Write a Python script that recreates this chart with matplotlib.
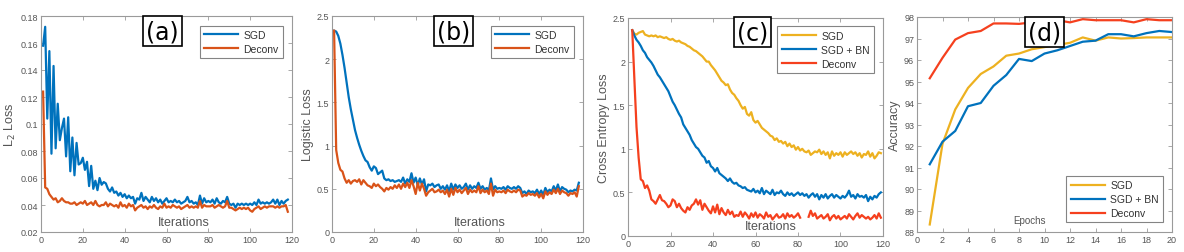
import numpy as np
import matplotlib
matplotlib.use("Agg")
import matplotlib.pyplot as plt

plt.rcParams['font.family'] = ['Liberation Sans', 'DejaVu Sans']

# ---------------- data ----------------
iters_ab = list(range(1, 119))
a_sgd = [0.158,0.172,0.104,0.154,0.078,0.143,0.082,0.115,0.088,0.097,
         0.104,0.076,0.105,0.065,0.090,0.062,0.086,0.070,0.071,0.075,
         0.066,0.072,0.054,0.069,0.052,0.058,0.051,0.060,0.055,0.057,
         0.056,0.052,0.050,0.053,0.049,0.050,0.047,0.049,0.046,0.048,
         0.045,0.047,0.045,0.046,0.041,0.045,0.044,0.049,0.043,0.046,
         0.044,0.042,0.046,0.043,0.045,0.042,0.044,0.041,0.043,0.045,
         0.042,0.043,0.042,0.044,0.042,0.043,0.041,0.042,0.043,0.046,
         0.042,0.043,0.041,0.042,0.040,0.047,0.041,0.045,0.042,0.043,
         0.042,0.044,0.041,0.045,0.042,0.041,0.043,0.042,0.046,0.041,
         0.040,0.041,0.038,0.041,0.040,0.041,0.040,0.041,0.040,0.041,
         0.040,0.042,0.040,0.044,0.041,0.042,0.041,0.042,0.041,0.042,
         0.044,0.041,0.044,0.040,0.043,0.041,0.043,0.044]
a_deconv = [0.124,0.053,0.052,0.048,0.046,0.044,0.045,0.042,0.043,0.045,
            0.043,0.042,0.042,0.041,0.041,0.042,0.040,0.041,0.042,0.041,
            0.043,0.040,0.041,0.042,0.040,0.043,0.040,0.039,0.040,0.040,
            0.042,0.039,0.041,0.040,0.039,0.040,0.038,0.042,0.039,0.040,
            0.038,0.041,0.039,0.040,0.036,0.038,0.039,0.040,0.038,0.039,
            0.037,0.039,0.038,0.040,0.038,0.037,0.039,0.038,0.041,0.038,
            0.039,0.038,0.040,0.039,0.038,0.039,0.037,0.038,0.039,0.040,
            0.038,0.039,0.038,0.039,0.038,0.043,0.038,0.040,0.039,0.039,
            0.039,0.040,0.038,0.039,0.040,0.039,0.038,0.039,0.043,0.038,
            0.038,0.037,0.036,0.037,0.038,0.037,0.038,0.037,0.038,0.036,
            0.035,0.037,0.038,0.039,0.037,0.038,0.039,0.038,0.039,0.039,
            0.039,0.038,0.039,0.038,0.039,0.039,0.040,0.035]

b_sgd = [2.33,2.32,2.27,2.18,2.05,1.90,1.73,1.56,1.42,1.30,
         1.18,1.09,1.01,0.94,0.88,0.83,0.81,0.75,0.71,0.76,
         0.74,0.67,0.69,0.71,0.62,0.60,0.61,0.59,0.60,0.58,
         0.59,0.60,0.58,0.63,0.56,0.61,0.58,0.68,0.57,0.63,
         0.54,0.62,0.55,0.61,0.47,0.55,0.54,0.56,0.52,0.54,
         0.55,0.50,0.53,0.49,0.54,0.47,0.56,0.49,0.55,0.51,
         0.54,0.50,0.52,0.56,0.49,0.54,0.50,0.53,0.51,0.57,
         0.50,0.53,0.49,0.51,0.48,0.62,0.49,0.53,0.50,0.51,
         0.50,0.52,0.49,0.53,0.51,0.50,0.52,0.50,0.53,0.51,
         0.45,0.47,0.44,0.48,0.46,0.47,0.45,0.49,0.44,0.48,
         0.43,0.51,0.46,0.49,0.47,0.53,0.48,0.55,0.47,0.52,
         0.50,0.49,0.46,0.48,0.47,0.49,0.48,0.57]
b_deconv = [2.33,0.95,0.80,0.72,0.70,0.62,0.57,0.60,0.56,0.59,
            0.60,0.58,0.61,0.55,0.60,0.57,0.54,0.53,0.51,0.56,
            0.53,0.55,0.52,0.50,0.47,0.51,0.49,0.52,0.50,0.54,
            0.51,0.55,0.50,0.56,0.52,0.57,0.51,0.60,0.53,0.44,
            0.57,0.48,0.56,0.50,0.42,0.46,0.48,0.50,0.46,0.47,
            0.49,0.46,0.48,0.44,0.49,0.41,0.50,0.43,0.51,0.46,
            0.49,0.45,0.48,0.51,0.44,0.49,0.46,0.48,0.46,0.53,
            0.45,0.49,0.46,0.48,0.44,0.56,0.42,0.49,0.46,0.47,
            0.46,0.48,0.45,0.49,0.47,0.46,0.48,0.46,0.49,0.48,
            0.41,0.43,0.42,0.45,0.43,0.44,0.42,0.45,0.40,0.44,
            0.39,0.47,0.43,0.46,0.44,0.49,0.45,0.50,0.44,0.48,
            0.46,0.45,0.42,0.45,0.44,0.46,0.41,0.53]

iters_c = list(range(2, 120))
c_sgd = [2.36,2.32,2.31,2.33,2.34,2.35,2.31,2.30,2.29,2.30,
         2.29,2.30,2.28,2.29,2.28,2.27,2.28,2.26,2.25,2.26,
         2.24,2.23,2.24,2.22,2.21,2.20,2.18,2.17,2.15,2.13,
         2.12,2.10,2.08,2.06,2.03,2.00,2.00,1.96,1.93,1.90,
         1.86,1.82,1.78,1.76,1.73,1.74,1.68,1.64,1.62,1.58,
         1.55,1.50,1.46,1.48,1.40,1.38,1.42,1.33,1.30,1.32,
         1.28,1.24,1.22,1.20,1.18,1.15,1.14,1.10,1.12,1.08,
         1.09,1.06,1.08,1.03,1.06,1.02,1.04,0.99,1.02,0.98,
         1.00,0.97,0.96,0.98,0.93,0.95,0.97,0.96,0.99,0.94,
         0.97,0.93,0.96,0.89,0.97,0.92,0.95,0.93,0.96,0.91,
         0.96,0.93,0.95,0.97,0.94,0.96,0.92,0.95,0.90,0.94,
         0.93,0.97,0.91,0.95,0.89,0.92,0.96,0.95]
c_sgdbn = [2.36,2.30,2.25,2.22,2.18,2.13,2.10,2.05,2.02,1.99,
           1.95,1.90,1.85,1.82,1.78,1.74,1.70,1.66,1.60,1.54,
           1.50,1.45,1.40,1.36,1.28,1.24,1.20,1.16,1.10,1.06,
           1.02,1.00,0.96,0.92,0.90,0.84,0.86,0.80,0.78,0.74,
           0.78,0.72,0.70,0.68,0.66,0.63,0.66,0.62,0.60,0.61,
           0.58,0.57,0.55,0.56,0.53,0.52,0.51,0.54,0.50,0.52,
           0.49,0.55,0.48,0.52,0.50,0.48,0.53,0.47,0.50,0.49,
           0.52,0.48,0.46,0.50,0.47,0.49,0.46,0.48,0.50,0.47,
           0.49,0.46,0.48,0.44,0.47,0.49,0.45,0.48,0.42,0.47,
           0.44,0.48,0.43,0.46,0.48,0.44,0.47,0.45,0.43,0.46,
           0.44,0.47,0.52,0.45,0.47,0.43,0.48,0.45,0.46,0.44,
           0.47,0.40,0.45,0.42,0.46,0.44,0.48,0.50]
c_deconv = [2.36,1.80,1.25,0.90,0.65,0.63,0.55,0.58,0.52,0.42,
            0.40,0.37,0.42,0.47,0.41,0.40,0.37,0.33,0.35,0.42,
            0.40,0.33,0.37,0.32,0.29,0.27,0.33,0.30,0.35,0.37,
            0.42,0.36,0.41,0.30,0.37,0.33,0.29,0.26,0.34,0.27,
            0.36,0.25,0.32,0.27,0.24,0.30,0.25,0.28,0.22,0.24,
            0.23,0.28,0.22,0.27,0.24,0.20,0.26,0.22,0.27,0.21,
            0.25,0.23,0.20,0.27,0.22,0.24,0.19,0.22,0.25,0.21,
            0.22,0.25,0.20,0.26,0.22,0.24,0.21,0.23,0.26,0.21,
            np.nan,np.nan,np.nan,0.22,0.29,0.23,0.26,0.20,0.22,0.24,
            0.20,0.22,0.25,0.18,0.22,0.24,0.20,0.23,0.19,0.21,
            0.23,0.20,0.25,0.22,0.19,0.23,0.26,0.21,0.24,0.22,
            0.20,0.22,0.19,0.21,0.24,0.20,0.26,0.21]

epochs = list(range(1, 21))
d_sgd = [88.35,92.1,93.7,94.7,95.35,95.7,96.2,96.3,96.5,96.6,
         96.7,96.8,97.05,96.9,97.05,97.0,97.02,97.05,97.05,97.05]
d_sgdbn = [91.15,92.2,92.7,93.85,94.0,94.8,95.3,96.05,95.95,96.3,
           96.45,96.65,96.85,96.9,97.2,97.2,97.1,97.25,97.35,97.3]
d_deconv = [95.15,96.1,96.95,97.25,97.35,97.7,97.7,97.68,97.75,97.8,
            97.85,97.75,97.9,97.85,97.85,97.85,97.75,97.9,97.85,97.85]

BLUE = '#0072BD'
ORANGE = '#D95319'
YELLOW = '#EDB120'
RED = '#F5401E'
GREY = '#555555'

fig = plt.figure(figsize=(11.84, 2.53), dpi=100)

def px_axes(l, t, r, b):
    W, H = 1184, 253
    return fig.add_axes([l / W, 1 - b / H, (r - l) / W, (b - t) / H])

def style(ax):
    for s in ax.spines.values():
        s.set_color('#9a9a9a')
        s.set_linewidth(0.8)
    ax.tick_params(direction='in', length=3, width=0.6, colors='#9a9a9a',
                   labelcolor=GREY, labelsize=6.5, top=True, right=True, pad=2)

def tag(ax, text, x, y):
    ax.text(x, y, text, transform=ax.transAxes, fontsize=17, ha='center', va='center',
            family=['DejaVu Sans'], zorder=10, clip_on=False,
            bbox=dict(boxstyle='square,pad=0.12', fc='white', ec='black', lw=1.2))

def leg(ax, loc, bbox=None):
    lg = ax.legend(loc=loc, bbox_to_anchor=bbox, fontsize=7.5, frameon=True, fancybox=False,
                   handlelength=3.3, handletextpad=0.5, borderpad=0.4, labelspacing=0.38,
                   borderaxespad=0.5)
    lg.get_frame().set_edgecolor('#666666')
    lg.get_frame().set_linewidth(0.8)
    for t in lg.get_texts():
        t.set_color('#333333')
    return lg

# (a)
ax = px_axes(41, 17, 292, 233)
ax.plot(iters_ab, a_sgd, color=BLUE, lw=1.6, label='SGD')
ax.plot(iters_ab, a_deconv, color=ORANGE, lw=1.6, label='Deconv')
ax.set_xlim(0, 120); ax.set_ylim(0.02, 0.18)
ax.set_xticks(range(0, 121, 20))
ax.set_yticks([0.02,0.04,0.06,0.08,0.1,0.12,0.14,0.16,0.18])
ax.set_yticklabels(['0.02','0.04','0.06','0.08','0.1','0.12','0.14','0.16','0.18'])
style(ax)
ax.set_ylabel(r'L$_2$ Loss', fontsize=9, color=GREY, labelpad=2)
ax.text(0.57, 0.045, 'Iterations', transform=ax.transAxes, fontsize=9, color=GREY, ha='center', va='center')
leg(ax, 'upper right', (0.985, 0.98))
tag(ax, '(a)', 0.484, 0.93)

# (b)
ax = px_axes(332, 17, 583, 233)
ax.plot(iters_ab, b_sgd, color=BLUE, lw=1.6, label='SGD')
ax.plot(iters_ab, b_deconv, color=ORANGE, lw=1.6, label='Deconv')
ax.set_xlim(0, 120); ax.set_ylim(0, 2.5)
ax.set_xticks(range(0, 121, 20))
ax.set_yticks([0, 0.5, 1, 1.5, 2, 2.5])
ax.set_yticklabels(['0', '0.5', '1', '1.5', '2', '2.5'])
style(ax)
ax.set_ylabel('Logistic Loss', fontsize=9, color=GREY, labelpad=2)
ax.text(0.59, 0.045, 'Iterations', transform=ax.transAxes, fontsize=9, color=GREY, ha='center', va='center')
leg(ax, 'upper right', (0.985, 0.98))
tag(ax, '(b)', 0.484, 0.93)

# (c)
ax = px_axes(628, 19, 883, 237)
ax.plot(iters_c, c_sgd, color=YELLOW, lw=1.6, label='SGD')
ax.plot(iters_c, c_sgdbn, color=BLUE, lw=1.6, label='SGD + BN')
ax.plot(iters_c, c_deconv, color=RED, lw=1.6, label='Deconv')
ax.set_xlim(0, 120); ax.set_ylim(0, 2.5)
ax.set_xticks(range(0, 121, 20))
ax.set_yticks([0, 0.5, 1, 1.5, 2, 2.5])
ax.set_yticklabels(['0', '0.5', '1', '1.5', '2', '2.5'])
style(ax)
ax.set_ylabel('Cross Entropy Loss', fontsize=9, color=GREY, labelpad=2)
ax.text(0.56, 0.045, 'Iterations', transform=ax.transAxes, fontsize=9, color=GREY, ha='center', va='center')
leg(ax, 'upper right', (0.985, 0.985))
tag(ax, '(c)', 0.49, 0.935)

# (d)
ax = px_axes(917, 18, 1172, 233)
ax.plot(epochs, d_sgd, color=YELLOW, lw=1.6, label='SGD')
ax.plot(epochs, d_sgdbn, color=BLUE, lw=1.6, label='SGD + BN')
ax.plot(epochs, d_deconv, color=RED, lw=1.6, label='Deconv')
ax.set_xlim(0, 20); ax.set_ylim(88, 98)
ax.set_xticks(range(0, 21, 2))
ax.set_yticks(range(88, 99))
style(ax)
ax.set_ylabel('Accuracy', fontsize=9, color=GREY, labelpad=2)
ax.text(0.44, 0.056, 'Epochs', transform=ax.transAxes, fontsize=7, color=GREY, ha='center', va='center')
leg(ax, 'lower right', (0.985, 0.02))
tag(ax, '(d)', 0.5, 0.93)

fig.savefig('out.png', dpi=100)
